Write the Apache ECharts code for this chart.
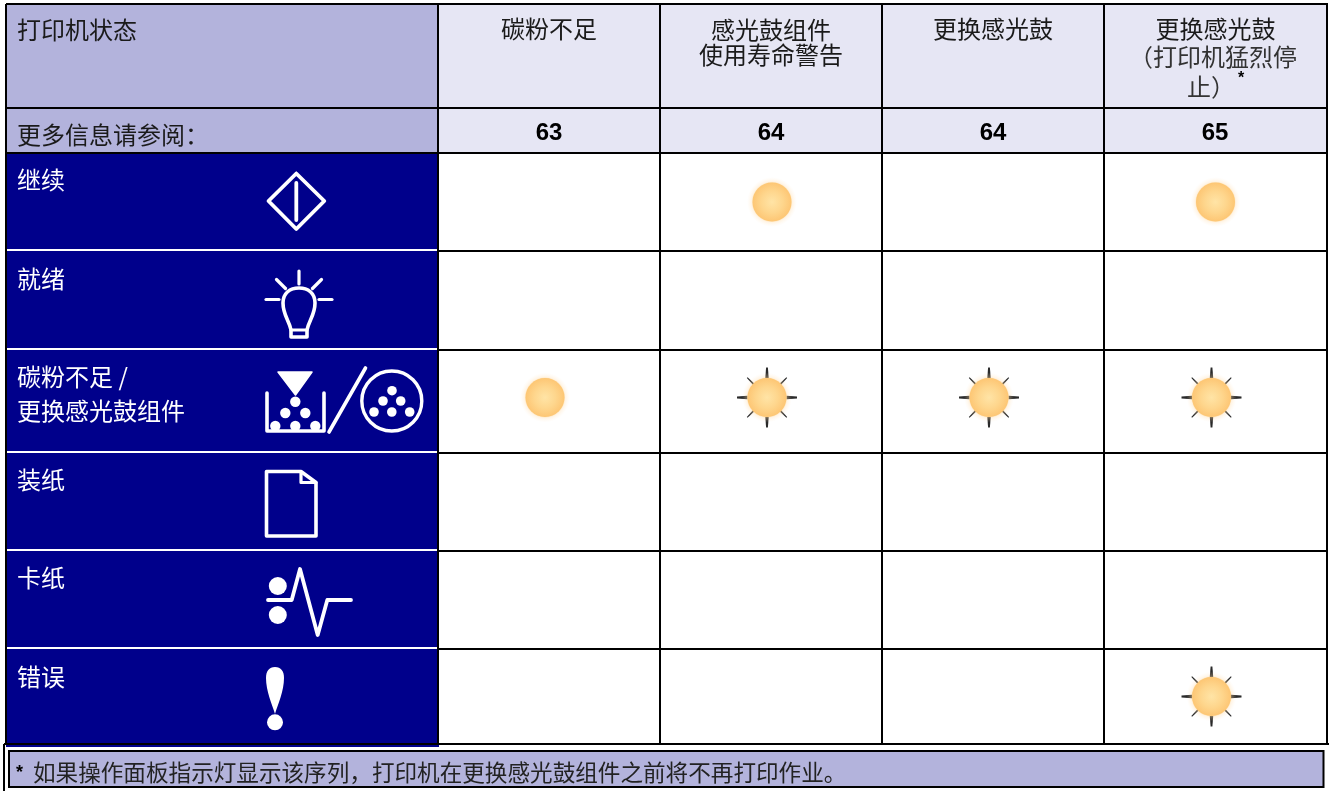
<!DOCTYPE html>
<html><head><meta charset="utf-8">
<style>html,body{margin:0;padding:0;background:#fff}#c{width:1329px;height:791px}</style>
<script src="https://cdn.jsdelivr.net/npm/echarts@6/dist/echarts.min.js"></script>
</head><body><div id="c"></div>
<script>
// ---- data ----
const columns = ['碳粉不足', '感光鼓组件\n使用寿命警告', '更换感光鼓', '更换感光鼓'];
const noteLine1 = '（打印机猛烈停';
const noteLine2 = '止）';
const pages = [63, 64, 64, 65];
const headerTitle = '打印机状态';
const pagesTitle = '更多信息请参阅：';
const rows = ['继续', '就绪', '碳粉不足 /\n更换感光鼓组件', '装纸', '卡纸', '错误'];
const footnote = '如果操作面板指示灯显示该序列，打印机在更换感光鼓组件之前将不再打印作业。';
// light state, rows x columns: 0 off, 1 on, 2 blinking
const continueLights = [0, 1, 0, 1];
const readyLights    = [0, 0, 0, 0];
const tonerLights    = [1, 2, 2, 2];
const paperLights    = [0, 0, 0, 0];
const jamLights      = [0, 0, 0, 0];
const errorLights    = [0, 0, 0, 2];

// ---- layout ----
const colX = [438, 660, 882, 1104, 1327];
const rowY = [108, 153, 251, 350, 453, 551, 649, 744];
const leftX = 6, topY = 4;
const lightDx = [-4, 1, 0, 0];
const blinkDx = [0, -4, -4, -4];
const lightDy = [0, 0, -4, 0, 0, 0];
const rowLabelY = [180, 279, 393.5, 480, 578, 677];
const FONT = '"Noto Sans CJK SC","Noto Sans",sans-serif';
const NAVY = '#00008b', LAV = '#b3b3dc', PALE = '#e6e6f4';

const lightGrid = [continueLights, readyLights, tonerLights, paperLights, jamLights, errorLights];
const lightData = [];
lightGrid.forEach((r, ri) => r.forEach((s, ci) => { if (s) {
  const x = (colX[ci] + colX[ci + 1]) / 2 + (s === 2 ? blinkDx[ci] : lightDx[ci]);
  const y = (rowY[ri + 1] + rowY[ri + 2]) / 2 + lightDy[ri];
  lightData.push([x, y, s]);
}}));

function cellsRender() {
  const seg = (a, b, c, d, col, w) => ({ type: 'line', shape: { x1: a, y1: b, x2: c, y2: d }, style: { stroke: col, lineWidth: w } });
  const rect = (a, b, c, d, f) => ({ type: 'rect', shape: { x: a, y: b, width: c - a, height: d - b }, style: { fill: f } });
  const kids = [
    rect(leftX, topY, colX[0], rowY[1], LAV),
    rect(colX[0], topY, colX[4], rowY[1], PALE),
    rect(leftX, rowY[1], colX[0] + 1, 747, NAVY)
  ];
  colX.forEach(x => kids.push(seg(x, topY - 1, x, rowY[7] + 1, '#000', 2)));
  [topY, rowY[0], rowY[1]].forEach(y => kids.push(seg(leftX, y, colX[4], y, '#000', 2)));
  rowY.slice(2, 7).forEach(y => {
    kids.push(seg(colX[0], y, colX[4], y, '#000', 2));
    kids.push(seg(5, y - 1, colX[0] - 1, y - 1, '#fff', 2));
  });
  kids.push(seg(leftX, 744, colX[4], 744, '#000', 2));
  kids.push(seg(6, topY, 6, 744, '#000', 2));
  return { type: 'group', children: kids };
}

function lightRender(params, api) {
  const p = api.coord([api.value(0), api.value(1)]);
  const s = api.value(2), R = 19.5, kids = [];
  if (s === 2) {
    for (let k = 0; k < 8; k++) {
      const a = k * Math.PI / 4, c = Math.cos(a), n = Math.sin(a);
      const major = k % 2 === 0;
      kids.push({ type: 'polygon', shape: { points: major
        ? [[c*R - n*1.7, n*R + c*1.7], [c*R + n*1.7, n*R - c*1.7], [c*30 + n*0.9, n*30 - c*0.9], [c*30 - n*0.9, n*30 + c*0.9]]
        : [[c*19 - n*0.9, n*19 + c*0.9], [c*19 + n*0.9, n*19 - c*0.9], [c*28 + n*0.5, n*28 - c*0.5], [c*28 - n*0.5, n*28 + c*0.5]] },
        style: { fill: '#2a2a2a' } });
    }
  }
  kids.push({ type: 'circle', shape: { cx: 0, cy: 0, r: 25 }, style: { fill: { type: 'radial', x: .5, y: .5, r: .5,
    colorStops: [{ offset: 0, color: 'rgba(255,214,140,.9)' }, { offset: .76, color: 'rgba(253,205,125,.6)' }, { offset: .82, color: 'rgba(255,220,170,.3)' }, { offset: 1, color: 'rgba(255,235,210,0)' }] } } });
  kids.push({ type: 'circle', shape: { cx: 0, cy: 0, r: R }, style: { fill: { type: 'radial', x: .5, y: .5, r: .5,
    colorStops: [{ offset: 0, color: '#ffe4a6' }, { offset: .55, color: '#fed68d' }, { offset: 1, color: '#fdc674' }] } } });
  return { type: 'group', x: p[0], y: p[1], children: kids };
}

// ---- text ----
const texts = [];
const T = (text, x, y, o) => texts.push({ type: 'text', x, y, style: Object.assign({ text, font: '24px ' + FONT, fill: '#1a1a1a', textVerticalAlign: 'middle', textAlign: 'left' }, o || {}) });
T(headerTitle, 17, 30);
T(pagesTitle, 17, 135);
columns.forEach((c, i) => {
  const cx = (colX[i] + colX[i + 1]) / 2;
  T(c, cx, i === 1 ? 42 : 29, { textAlign: 'center', lineHeight: 25 });
  T(String(pages[i]), cx - (i === 3 ? .5 : 0), 133, { textAlign: 'center', font: 'bold 24px "Liberation Sans",sans-serif', fill: '#000' });
});
T(noteLine1, 1213, 57, { textAlign: 'center', fill: '#333' });
T(noteLine2, 1211, 87, { textAlign: 'center', fill: '#333' });
T('*', 1241, 79, { font: 'bold 16px "Liberation Sans",sans-serif', fill: '#000', textAlign: 'center' });
rows.forEach((r, i) => T(r, 17, rowLabelY[i], { fill: '#fff', lineHeight: 34 }));
T('*', 16, 773, { font: 'bold 18px "Liberation Sans",sans-serif', fill: '#000' });
T(footnote, 33, 772, { font: '22.6px ' + FONT, fill: '#222' });

// ---- icons (static glyphs on the navy column) ----
const W = '#fff';
const L = (pts, w) => ({ type: 'polyline', shape: { points: pts }, style: { stroke: W, fill: 'none', lineWidth: w || 3.8, lineCap: 'round', lineJoin: 'round' } });
const C = (cx, cy, r, o) => ({ type: 'circle', shape: { cx, cy, r }, style: Object.assign({ fill: W }, o || {}) });
const P = (d, o) => ({ type: 'path', shape: { pathData: d }, style: Object.assign({ fill: 'none', stroke: W, lineWidth: 3.6, lineJoin: 'round', lineCap: 'round' }, o || {}) });
const dots = (arr, r) => arr.map(a => C(a[0], a[1], r));
const icons = [
  L([[296.3, 173.5], [324.3, 201], [296.3, 229], [268.5, 201], [296.3, 173.5]]),
  L([[296.3, 183], [296.3, 220]]),
  P('M291,337 L291,330 C289,320 283,315 283,303 C283,293 290,288 299,288 C308,288 315,293 315,303 C315,315 309,320 307,330 L307,337 Z'),
  L([[291, 330], [307, 330]], 3.2),
  L([[299, 271], [299, 284]], 3.2), L([[276.5, 279.5], [285.5, 288.5]], 3.2), L([[321.5, 279.5], [312.5, 288.5]], 3.2),
  L([[266, 299.5], [279, 299.5]], 3.2), L([[319, 299.5], [332, 299.5]], 3.2),
  P('M278,372 L312,372 L295.5,395 Z', { fill: W, stroke: W, lineWidth: 1.5 }),
  L([[267, 393], [267, 431], [324, 431], [324, 393]], 3.6),
  ...dots([[295.3, 401.7], [285.3, 413], [305.3, 413], [275.3, 426], [295.3, 426], [315.3, 426]], 5.2),
  L([[329, 432], [365.5, 368]], 3.6),
  C(391.8, 401, 30, { fill: 'none', stroke: W, lineWidth: 3.4 }),
  ...dots([[392, 390.7], [383, 401], [400.7, 401], [374, 412], [391.8, 412], [409.7, 412]], 4.8),
  P('M266.5,471.5 L301,471.5 L316,482.5 L316,536 L266.5,536 Z'),
  P('M301,472 L301,482.5 L316,482.5', { lineWidth: 3.2 }),
  C(277.8, 586, 9), C(277.8, 615, 9),
  L([[268, 600], [291.7, 600], [300, 569], [317.7, 635], [327.3, 600], [351, 600]], 3.8),
  P('M275,667 C269,667 266,671 266,678 C266,691 272,704 275,714 C278,704 284,691 284,678 C284,671 281,667 275,667 Z', { fill: W, stroke: 'none' }),
  C(275, 722.3, 8),
];

// ---- footer frame ----
const frame = [
  { type: 'rect', shape: { x: 9, y: 751, width: 1314.5, height: 36 }, style: { fill: LAV, stroke: '#000', lineWidth: 2 } },
  { type: 'line', shape: { x1: 4, y1: 744, x2: 4, y2: 791 }, style: { stroke: '#000', lineWidth: 2 } },
  { type: 'line', shape: { x1: 4, y1: 744, x2: 1329, y2: 744 }, style: { stroke: '#000', lineWidth: 2 } },
];

const chart = echarts.init(document.getElementById('c'), null, { renderer: 'canvas' });
chart.setOption({
  animation: false,
  backgroundColor: '#fff',
  grid: { left: 0, right: 0, top: 0, bottom: 0 },
  xAxis: { type: 'value', min: 0, max: 1329, show: false },
  yAxis: { type: 'value', min: 0, max: 791, inverse: true, show: false },
  series: [
    { type: 'custom', name: 'table', renderItem: cellsRender, data: [[0, 0]], silent: true, clip: false, z: 1 },
    { type: 'custom', name: 'lights', renderItem: lightRender, data: lightData, silent: true, clip: false, z: 2 },
    { type: 'custom', name: 'labels', renderItem: () => ({ type: 'group', children: [...frame, ...icons, ...texts] }), data: [[0, 0]], silent: true, clip: false, z: 3 }
  ]
});
</script></body></html>
